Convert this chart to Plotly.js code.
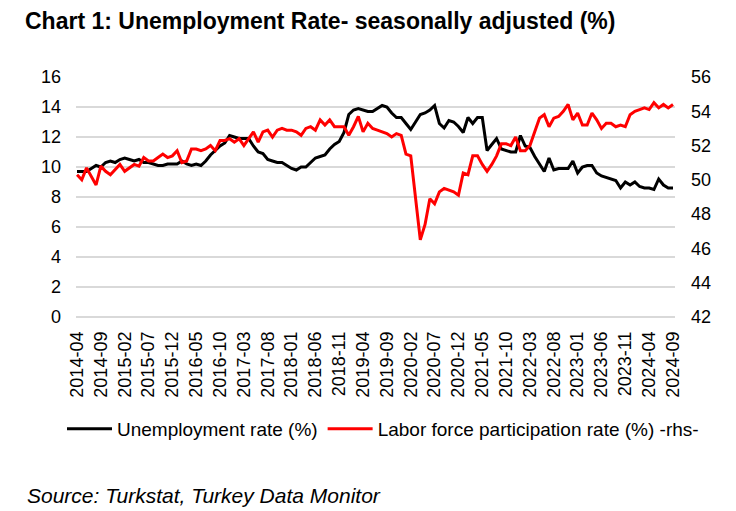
<!DOCTYPE html>
<html>
<head>
<meta charset="utf-8">
<script src="https://cdn.plot.ly/plotly-3.0.1.min.js"></script>
<style>html,body{margin:0;padding:0;background:#fff;}#chart{width:736px;height:511px;}</style>
</head>
<body>
<div id="chart"></div>
<script>
// Months: 2014-04 .. 2024-09
const months = [];
for (let y = 2014; y <= 2024; y++) {
  for (let m = 1; m <= 12; m++) {
    if ((y === 2014 && m < 4) || (y === 2024 && m > 9)) continue;
    months.push(y + '-' + (m < 10 ? '0' + m : m));
  }
}

const unemployment = [
  9.7, 9.7, 9.7, 9.9, 10.1, 10.0, 10.3, 10.4, 10.3, 10.5,
  10.6, 10.5, 10.4, 10.5, 10.3, 10.3, 10.2, 10.1, 10.1, 10.2,
  10.2, 10.2, 10.4, 10.2, 10.1, 10.2, 10.1, 10.4, 10.8, 11.1,
  11.4, 11.6, 12.1, 12.0, 11.9, 11.9, 11.9, 11.4, 11.0, 10.9,
  10.5, 10.4, 10.3, 10.3, 10.1, 9.9, 9.8, 10.0, 10.0, 10.3,
  10.6, 10.7, 10.8, 11.2, 11.5, 11.7, 12.3, 13.5, 13.8, 13.9,
  13.8, 13.7, 13.7, 13.9, 14.1, 14.0, 13.6, 13.3, 13.3, 12.9,
  12.5, 13.0, 13.5, 13.6, 13.8, 14.1, 12.9, 12.6, 13.1, 13.0,
  12.7, 12.3, 13.3, 12.9, 13.3, 13.3, 11.1, 11.5, 11.9, 11.2,
  11.1, 11.0, 11.0, 12.1, 11.4, 11.3, 10.7, 10.2, 9.7, 10.6,
  9.8, 9.9, 9.9, 9.9, 10.4, 9.6, 10.0, 10.1, 10.1, 9.6,
  9.4, 9.3, 9.2, 9.1, 8.6, 9.0, 8.8, 9.0, 8.7, 8.6,
  8.6, 8.5, 9.2, 8.8, 8.6, 8.6
];

const participation = [
  50.3, 50.0, 50.7, 50.2, 49.7, 50.8, 50.5, 50.3, 50.6, 50.9,
  50.5, 50.7, 50.9, 50.8, 51.3, 51.1, 51.1, 51.3, 51.5, 51.3,
  51.4, 51.7, 51.0, 51.1, 51.8, 51.8, 51.7, 51.8, 52.0, 51.7,
  52.3, 52.3, 52.4, 52.2, 52.4, 52.0, 52.4, 52.8, 52.2, 52.8,
  52.9, 52.5, 52.9, 53.0, 52.9, 52.9, 52.8, 52.6, 53.0, 53.1,
  52.9, 53.5, 53.2, 53.5, 53.1, 53.1, 53.1, 52.6, 53.1, 53.7,
  52.8, 53.3, 53.0, 52.9, 52.8, 52.7, 52.5, 52.7, 52.6, 51.5,
  51.4, 49.0, 46.5, 47.4, 48.9, 48.6, 49.3, 49.5, 49.4, 49.3,
  49.1, 50.4, 50.3, 51.4, 51.4, 50.9, 50.5, 50.9, 51.4, 52.1,
  52.1, 52.0, 52.5, 51.7, 51.7, 52.0, 52.8, 53.6, 53.8, 53.1,
  53.6, 53.7, 54.0, 54.4, 53.5, 53.9, 53.2, 53.2, 53.9, 53.5,
  53.0, 53.3, 53.3, 53.1, 53.2, 53.1, 53.8, 54.0, 54.1, 54.2,
  54.1, 54.5, 54.2, 54.4, 54.2, 54.4
];

const tickLabels = months.filter((m, i) => i % 5 === 0);

const FONT = 'Liberation Sans, Arial, sans-serif';

const traces = [
  {
    x: months, y: unemployment, type: 'scatter', mode: 'lines',
    name: 'Unemployment rate (%)',
    line: {color: '#000000', width: 3}, yaxis: 'y'
  },
  {
    x: months, y: participation, type: 'scatter', mode: 'lines',
    name: 'Labor force participation rate (%) -rhs-',
    line: {color: '#ff0000', width: 3}, yaxis: 'y2'
  }
];

const layout = {
  width: 736, height: 511,
  paper_bgcolor: '#ffffff', plot_bgcolor: '#ffffff',
  font: {family: FONT, size: 18, color: '#000'},
  margin: {l: 76, r: 61, t: 77, b: 194, pad: 0},
  title: {
    text: 'Chart 1: Unemployment Rate- seasonally adjusted (%)',
    font: {family: FONT, size: 23, weight: 'bold', color: '#000'},
    xref: 'container', yref: 'container',
    x: 25 / 736, xanchor: 'left', y: 1 - 21 / 511, yanchor: 'middle'
  },
  xaxis: {
    type: 'category',
    range: [-0.21, 125.42],
    tickmode: 'array', tickvals: tickLabels, ticktext: tickLabels,
    tickangle: -90, ticks: '', showgrid: false, zeroline: false, showline: false,
    tickfont: {family: FONT, size: 18, color: '#000'},
    ticklabelstandoff: 10
  },
  yaxis: {
    range: [0, 16], dtick: 2, tick0: 0,
    showgrid: true, gridcolor: '#d9d9d9', gridwidth: 1.2,
    zeroline: true, zerolinecolor: '#d9d9d9', zerolinewidth: 1.2,
    showline: false, ticks: '',
    tickfont: {family: FONT, size: 18, color: '#000'},
    ticklabelstandoff: 14
  },
  yaxis2: {
    range: [42, 56], dtick: 2, tick0: 42,
    overlaying: 'y', side: 'right',
    showgrid: false, zeroline: false, showline: false, ticks: '',
    tickfont: {family: FONT, size: 18, color: '#000'},
    ticklabelstandoff: 15
  },
  showlegend: true,
  legend: {
    orientation: 'h',
    xref: 'paper', yref: 'paper',
    x: (62 - 76) / 599, xanchor: 'left',
    y: (317 - 429) / 240, yanchor: 'middle',
    font: {family: FONT, size: 19, color: '#000'},
    itemwidth: 45,
    bgcolor: 'rgba(0,0,0,0)'
  },
  annotations: [{
    text: '<i>Source: Turkstat, Turkey Data Monitor</i>',
    xref: 'paper', yref: 'paper',
    x: (25 - 76) / 599, xanchor: 'left',
    y: (317 - 495) / 240, yanchor: 'middle',
    showarrow: false,
    font: {family: FONT, size: 21, color: '#000'}
  }]
};

Plotly.newPlot('chart', traces, layout, {displayModeBar: false, staticPlot: true});
</script>
</body>
</html>
